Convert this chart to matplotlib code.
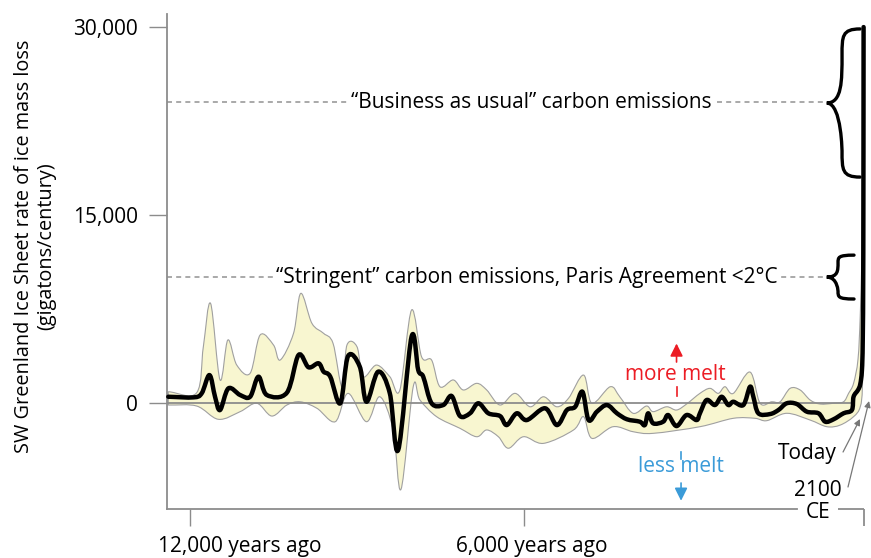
import numpy as np
import matplotlib
matplotlib.use('Agg')
import matplotlib.pyplot as plt
from matplotlib.path import Path
from matplotlib.patches import PathPatch
import matplotlib.transforms as mtransforms

plt.rcParams['font.family'] = ['Open Sans', 'DejaVu Sans']

# years relative to today (negative = past), ice mass loss in gigatons/century
median_t = [-12390, -11940, -11790, -11650, -11550, -11460, -11310, -11100, -10920, -10770,
            -10620, -10260, -10050, -9870, -9690, -9600, -9480, -9300, -9160, -8950,
            -8830, -8620, -8410, -8260, -8020, -7900, -7810, -7660, -7450, -7300,
            -7150, -6970, -6820, -6640, -6430, -6310, -6130, -5950, -5620, -5410,
            -5230, -5080, -4950, -4840, -4690, -4510, -4330, -4150, -3920, -3830,
            -3770, -3680, -3500, -3410, -3260, -3080, -2900, -2840, -2720, -2570,
            -2450, -2330, -2240, -2060, -1940, -1880, -1790, -1580, -1430, -1280,
            -1100, -920, -710, -590, -440, -260, -110, -80, 0, 40,
            70, 85, 95, 100]
median_v = [500, 450, 770, 2230, 500, -560, 1170, 640, 500, 2100,
            640, 820, 3830, 2850, 3170, 2500, 2100, -20, 3750, 2900,
            100, 2500, 770, -3750, 5290, 2630, 2100, -20, -160, 560,
            -1040, -820, -20, -820, -1040, -1760, -820, -1360, -420, -1760,
            -560, -300, 900, -1360, -690, -160, -820, -1300, -1490, -1760,
            -820, -1620, -1490, -960, -1840, -960, -1360, -820, 240, -160,
            500, -160, 100, -160, 1300, 500, -820, -880, -560, -20,
            -80, -690, -820, -1490, -1300, -820, -560, 500, 1040, 1500,
            2600, 5000, 12000, 30000]

upper_t = [-12390, -11880, -11760, -11630, -11460, -11320, -11160, -10920, -10740, -10500,
           -10380, -10140, -10010, -9810, -9600, -9430, -9270, -9180, -9000, -8890,
           -8650, -8410, -8230, -8020, -7840, -7660, -7510, -7270, -7090, -6850,
           -6670, -6430, -6160, -5890, -5650, -5410, -5200, -4930, -4780, -4450,
           -4280, -4040, -3800, -3680, -3440, -3260, -3080, -2840, -2660, -2510,
           -2390, -2240, -1940, -1760, -1550, -1400, -1220, -1040, -860, -680,
           -440, -260, -170, -80, 0, 40, 70, 90, 100]
upper_v = [900, 820, 4490, 7950, 1840, 5030, 3030, 2370, 5430, 4630,
           3430, 5560, 8750, 6360, 5560, 4760, 1300, 4630, 4490, 2100,
           3030, 2100, 1040, 7420, 3690, 3430, 1300, 1840, 1040, 1570,
           1040, -160, 770, -300, 500, -300, 380, 2230, -20, 1300,
           500, -820, -240, -690, -300, -560, -80, 770, 1170, 770,
           1300, 770, 2470, -20, 100, 100, 1170, 1040, 240, -80,
           -20, 100, 770, 1570, 3500, 7000, 12000, 20000, 30000]

lower_t = [-12390, -11880, -11490, -11100, -10800, -10530, -10260, -10020, -9720, -9390,
           -9160, -8830, -8590, -8350, -8210, -7990, -7870, -7570, -7150, -6850,
           -6670, -6460, -6280, -6010, -5650, -5110, -4930, -4780, -4400, -4040,
           -3680, -2840, -2240, -1850, -1640, -1280, -860, -560, -320, -80,
           40, 80, 95, 100]
lower_v = [-160, -240, -1300, -690, -20, -1040, -160, 100, -420, -1490,
           770, -1490, 500, -2150, -6890, 1300, 240, -1090, -2020, -2690,
           -2150, -2690, -3610, -2690, -3220, -2150, -1090, -2820, -1890, -2290,
           -2420, -1890, -1220, -1220, -1410, -820, -1360, -1890, -1760, -1090,
           -300, 1500, 8000, 28000]

y_ticks = [0, 15000, 30000]
y_ticklabels = ['0', '15,000', '30,000']
x_ticks = [-12000, -6000]
x_ticklabels = ['12,000 years ago', '6,000 years ago']

bau_level = 24000
paris_level = 10050

SPINE = '#8c8c8c'
DASH = '#9b9b9b'
BAND = '#f8f6d0'
FS = 15

XMIN, XMAX = -12404, 144
YMIN, YMAX = -8458, 31038

fig = plt.figure(figsize=(8.71, 5.58), dpi=100)
ax = fig.add_axes([0.1923, 0.0878, 0.802, 0.887])
ax.set_xlim(XMIN, XMAX)
ax.set_ylim(YMIN, YMAX)


def bezier_verts(xs, ys):
    # smooth curve through the points (Catmull-Rom as cubic Bezier segments)
    p = np.column_stack([xs, ys]).astype(float)
    tan = np.zeros_like(p)
    tan[1:-1] = (p[2:] - p[:-2]) / 2
    tan[0] = p[1] - p[0]
    tan[-1] = p[-1] - p[-2]
    verts = [p[0]]
    for i in range(len(p) - 1):
        verts += [p[i] + tan[i] / 3, p[i + 1] - tan[i + 1] / 3, p[i + 1]]
    return verts


# uncertainty band
up = bezier_verts(upper_t, upper_v)
lo = bezier_verts(lower_t[::-1], lower_v[::-1])
band_verts = up + lo + [up[0]]
band_codes = ([Path.MOVETO] + [Path.CURVE4] * (len(up) - 1) + [Path.LINETO]
              + [Path.CURVE4] * (len(lo) - 1) + [Path.CLOSEPOLY])
ax.add_patch(PathPatch(Path(band_verts, band_codes), facecolor=BAND, edgecolor='#a0a0a0',
                       lw=0.8, zorder=1, clip_on=False))
ax.plot([XMIN, -150], [0, 0], color=SPINE, lw=1.3, zorder=2)

med = bezier_verts(median_t, median_v)
ax.add_patch(PathPatch(Path(med, [Path.MOVETO] + [Path.CURVE4] * (len(med) - 1)),
                       facecolor='none', edgecolor='black', lw=3.2, joinstyle='round',
                       capstyle='round', zorder=3, clip_on=False))


def brace(x_tip, x_spine, x_hook, y_top, y_bot):
    y_mid = (y_top + y_bot) / 2
    h = (y_top - y_bot) / 2
    verts = [(x_hook, y_top),
             (x_spine, y_top), (x_spine, y_top - 0.1 * h), (x_spine, y_top - 0.35 * h),
             (x_spine, y_mid + 0.3 * h), (x_spine, y_mid), (x_tip, y_mid),
             (x_spine, y_mid), (x_spine, y_bot + 0.3 * h), (x_spine, y_bot + 0.35 * h),
             (x_spine, y_bot + 0.1 * h), (x_spine, y_bot), (x_hook, y_bot)]
    codes = [Path.MOVETO] + [Path.CURVE4] * 12
    ax.add_patch(PathPatch(Path(verts, codes), facecolor='none', edgecolor='black',
                           lw=2.4, capstyle='round', clip_on=False, zorder=4))


brace(-562, -287, 36, 29850, 18030)
brace(-562, -359, -72, 11800, 8300)

ax.plot([XMIN, -620], [bau_level, bau_level], ls=(0, (3, 2.5)), color=DASH, lw=1.2)
ax.plot([XMIN, -620], [paris_level, paris_level], ls=(0, (3, 2.5)), color=DASH, lw=1.2)
box = dict(facecolor='white', edgecolor='none', pad=2)
ax.text(-5874, bau_level, '\u201cBusiness as usual\u201d carbon emissions', fontsize=FS,
        ha='center', va='center', bbox=box)
ax.text(-5955, paris_level, '\u201cStringent\u201d carbon emissions, Paris Agreement <2\u00b0C',
        fontsize=FS, ha='center', va='center', bbox=box)

# more / less melt
RED = '#ec1c24'
BLUE = '#3b9bd8'
ax.text(-3287, 2314, 'more melt', color=RED, fontsize=FS, ha='center', va='center')
ax.annotate('', xy=(-3260, 4750), xytext=(-3260, 3271),
            arrowprops=dict(arrowstyle='-|>', color=RED, lw=1.2, mutation_scale=19,
                            shrinkA=0, shrinkB=0))
ax.plot([-3260, -3260], [1277, 559], color=RED, lw=1.2)
ax.text(-3179, -5080, 'less melt', color=BLUE, fontsize=FS, ha='center', va='center')
ax.annotate('', xy=(-3179, -7800), xytext=(-3179, -6383),
            arrowprops=dict(arrowstyle='-|>', color=BLUE, lw=1.2, mutation_scale=19,
                            shrinkA=0, shrinkB=0))
ax.plot([-3179, -3179], [-3910, -4500], color=BLUE, lw=1.2)

# today / 2100 annotations
ax.text(-383, -3990, 'Today', fontsize=FS, ha='right', va='center')
ax.text(-293, -6942, '2100', fontsize=FS, ha='right', va='center')
ax.annotate('', xy=(36, -1277), xytext=(-269, -3910), annotation_clip=False,
            arrowprops=dict(arrowstyle='-|>', color='#777777', lw=0.9, mutation_scale=9,
                            shrinkA=0, shrinkB=0))
ax.annotate('', xy=(198, 160), xytext=(-180, -6702), annotation_clip=False,
            arrowprops=dict(arrowstyle='-|>', color='#777777', lw=0.9, mutation_scale=9,
                            shrinkA=0, shrinkB=0))
ax.text(-718, -8697, 'CE', fontsize=FS, ha='center', va='center', clip_on=False)
ax.plot([-359, 113], [YMIN, YMIN], color=SPINE, lw=1.3, clip_on=False, solid_capstyle='butt')
ax.plot([113, 113], [YMIN, -9814], color=SPINE, lw=1.3, clip_on=False, solid_capstyle='butt')

# axes styling
for side in ['top', 'right']:
    ax.spines[side].set_visible(False)
for side in ['left', 'bottom']:
    ax.spines[side].set_color(SPINE)
    ax.spines[side].set_linewidth(1.3)
ax.spines['bottom'].set_bounds(XMIN, -1096)

ax.set_yticks(y_ticks)
ax.set_yticklabels(y_ticklabels, fontsize=FS)
ax.tick_params(axis='y', length=13.3, width=1.0, color=SPINE, pad=8)
ax.set_xticks(x_ticks)
ax.set_xticklabels(['', ''])
ax.tick_params(axis='x', length=12.2, width=1.0, color=SPINE)

trans = mtransforms.blended_transform_factory(ax.transData, fig.transFigure)
ax.text(-11101, 0.0108, x_ticklabels[0], fontsize=FS, ha='center', va='baseline', transform=trans)
ax.text(-5856, 0.0108, x_ticklabels[1], fontsize=FS, ha='center', va='baseline', transform=trans)

fig.text(35 / 871, 1 - 246 / 558,
         'SW Greenland Ice Sheet rate of ice mass loss\n(gigatons/century)',
         rotation=90, fontsize=14.3, ha='center', va='center', multialignment='center',
         linespacing=1.15)

fig.savefig('out.png', dpi=100)
